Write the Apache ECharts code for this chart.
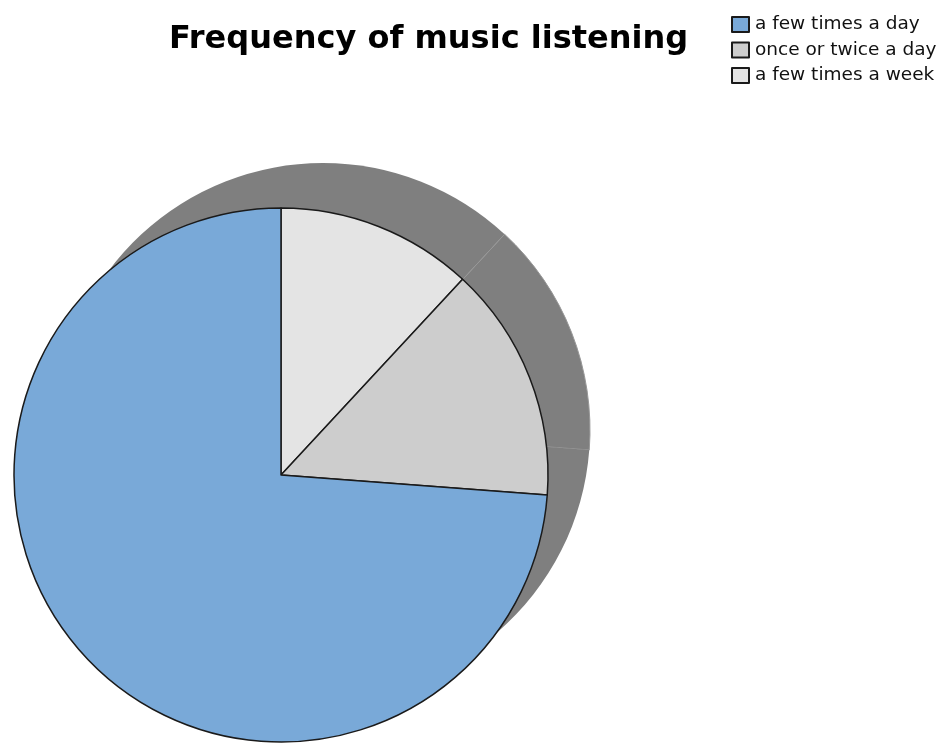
<!DOCTYPE html>
<html>
<head>
<meta charset="utf-8">
<style>html,body{margin:0;padding:0;background:#fff;}#c{width:948px;height:744px;}</style>
<script src="https://cdn.jsdelivr.net/npm/echarts@6/dist/echarts.min.js"></script>
</head>
<body>
<div id="c"></div>
<script>
// Categories in drawing order (clockwise from 12 o'clock)
const categories = ['a few times a week', 'once or twice a day', 'a few times a day'];
const counts = [5, 6, 31];
const legendOrder = ['a few times a day', 'once or twice a day', 'a few times a week'];
const sliceColors = ['#e4e4e4', '#cdcdcd', '#79a9d8'];

const chart = echarts.init(document.getElementById('c'), null, {renderer: 'canvas'});
const mainData = categories.map((c, i) => ({name: c, value: counts[i], itemStyle: {color: sliceColors[i]}}));
const shadowData = categories.map((c, i) => ({
  name: 'shadow ' + i, value: counts[i],
  itemStyle: i === 1 ? {borderColor: '#979797', borderWidth: 1} : {borderWidth: 0}
}));

chart.setOption({
  backgroundColor: '#ffffff',
  animation: false,
  title: {
    text: 'Frequency of music listening',
    left: 169, top: 24, padding: 0,
    textStyle: {fontFamily: 'DejaVu Sans', fontWeight: 'bold', fontSize: 32, color: '#000'}
  },
  legend: {
    data: legendOrder,
    orient: 'vertical',
    left: 731, top: 15, padding: 0,
    itemWidth: 17, itemHeight: 15, itemGap: 6.5,
    icon: 'rect',
    selectedMode: false,
    textStyle: {fontFamily: 'DejaVu Sans', fontSize: 18.5, lineHeight: 18, color: '#111', padding: [0, 0, 0, 1]}
  },
  series: [
    {
      type: 'pie', silent: true, z: 1,
      center: [323, 430], radius: 267,
      startAngle: 90, clockwise: true,
      label: {show: false}, labelLine: {show: false},
      emphasis: {disabled: true},
      itemStyle: {color: '#7f7f7f'},
      data: shadowData
    },
    {
      type: 'pie', z: 2,
      center: [281, 475], radius: 267,
      startAngle: 90, clockwise: true,
      label: {show: false}, labelLine: {show: false},
      emphasis: {disabled: true},
      itemStyle: {borderColor: '#1a1a1a', borderWidth: 1.5},
      data: mainData
    }
  ]
});
</script>
</body>
</html>
